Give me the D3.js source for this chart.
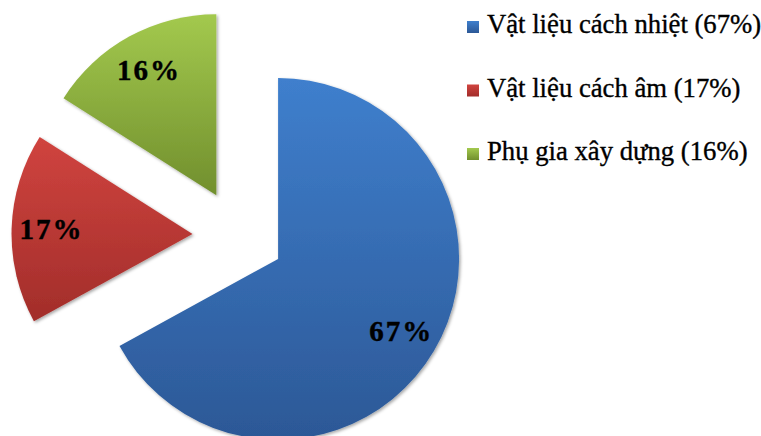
<!DOCTYPE html>
<html>
<head>
<meta charset="utf-8">
<script src="https://cdn.jsdelivr.net/npm/d3@7"></script>
<style>
  html, body { margin: 0; padding: 0; background: #fff; }
  svg { display: block; }
</style>
</head>
<body>
<svg id="chart" width="761" height="436"></svg>
<script>
const categories = ["Vật liệu cách nhiệt", "Vật liệu cách âm", "Phụ gia xây dựng"];
const values = [67, 17, 16];
const legendLabels = ["Vật liệu cách nhiệt (67%)", "Vật liệu cách âm (17%)", "Phụ gia xây dựng (16%)"];
const pctLabels = ["67%", "17%", "16%"];
const colorsTop = ["#3f7fcd", "#d0443f", "#a3c94e"];
const colorsBottom = ["#2c5896", "#a22d2a", "#718f2d"];

const svg = d3.select("#chart");
const cx = 238.5, cy = 235.5, R = 181, explode = 46, labelR = 142;
const serif = "'Liberation Serif', 'Times New Roman', Times, serif";

const defs = svg.append("defs");
categories.forEach((c, i) => {
  const g = defs.append("linearGradient")
    .attr("id", "grad" + i)
    .attr("x1", 0).attr("y1", 0).attr("x2", 0).attr("y2", 1);
  g.append("stop").attr("offset", "0%").attr("stop-color", colorsTop[i]);
  g.append("stop").attr("offset", "100%").attr("stop-color", colorsBottom[i]);
});
const f = defs.append("filter").attr("id", "shadow")
  .attr("x", "-10%").attr("y", "-10%").attr("width", "130%").attr("height", "130%");
f.append("feDropShadow").attr("dx", 1.5).attr("dy", 1.5).attr("stdDeviation", 1.5)
  .attr("flood-color", "#000").attr("flood-opacity", 0.35);

const pie = d3.pie().sort(null).value(d => d)(values);
const arc = d3.arc().innerRadius(0).outerRadius(R);
const labelArc = d3.arc().innerRadius(labelR).outerRadius(labelR);

const g = svg.append("g").attr("transform", `translate(${cx},${cy})`);
const slices = g.selectAll("g.slice").data(pie).enter().append("g")
  .attr("class", "slice")
  .attr("transform", d => {
    const a = (d.startAngle + d.endAngle) / 2;
    return `translate(${explode * Math.sin(a)},${-explode * Math.cos(a)})`;
  });
slices.append("path")
  .attr("d", arc)
  .attr("fill", (d, i) => `url(#grad${i})`)
  .attr("filter", "url(#shadow)");
slices.append("text")
  .attr("transform", d => {
    const p = labelArc.centroid(d);
    return `translate(${p[0] + 1},${p[1] + 9.5})`;
  })
  .attr("text-anchor", "middle")
  .style("font-family", serif)
  .style("font-weight", "bold")
  .style("font-size", "29px")
  .style("letter-spacing", "2px")
  .attr("fill", "#000")
  .attr("stroke", "#000").attr("stroke-width", 0.4)
  .text((d, i) => pctLabels[i]);

const legend = svg.append("g");
const ly = d3.scaleLinear().domain([0, 2]).range([33, 160]);
legendLabels.forEach((t, i) => {
  legend.append("rect")
    .attr("x", 467).attr("y", ly(i) - 12)
    .attr("width", 12).attr("height", 12)
    .attr("fill", `url(#grad${i})`);
  legend.append("text")
    .attr("x", 487).attr("y", ly(i))
    .style("font-family", serif)
    .style("font-size", "26.7px")
    .attr("fill", "#000")
    .attr("stroke", "#000").attr("stroke-width", 0.35)
    .text(t);
});
</script>
</body>
</html>
